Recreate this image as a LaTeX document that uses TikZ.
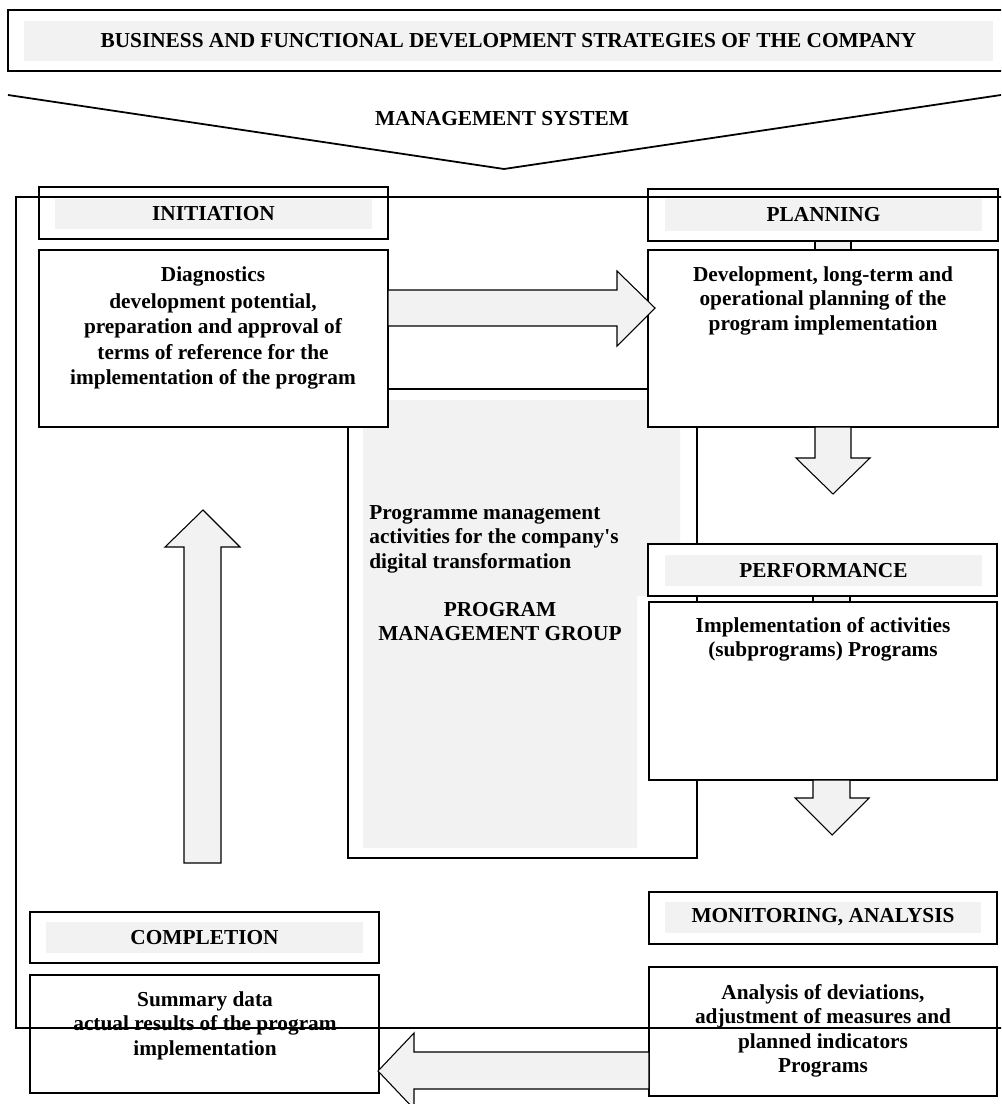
\documentclass[tikz,border=0pt]{standalone}
\usepackage{fontspec}
\setmainfont{Liberation Serif}[Ligatures=TeXOff]
\usetikzlibrary{fit}

\tikzset{
  frame/.style={draw, fill=white, line width=0.6pt, inner sep=0pt},
  shade/.style={fill=gray!10, inner sep=0pt},
  caption/.style={font=\fontsize{12}{13.8}\selectfont\bfseries, align=center, inner sep=0pt},
  blockarrow/.style={draw, fill=gray!10, line width=0.6pt, line join=miter}
}

\begin{document}
\begin{tikzpicture}[x=0.563pt,y=-0.563pt]
\useasboundingbox (0,0) rectangle (1001,1104);
\clip (0,0) rectangle (1001,1104);

% strategies and management system
\node[frame, fit={(8,10) (1012,71)}] (strat) {};
\node[shade, fit={(24,21) (993,61)}] (stratbar) {};
\node[caption] (strattxt) at (stratbar) {BUSINESS AND FUNCTIONAL DEVELOPMENT STRATEGIES OF THE COMPANY};
\coordinate (vleft) at (8,95);
\coordinate (apex) at (504,169);
\coordinate (vright) at (1001,95);
\draw[line width=1pt] (vleft) -- (apex) -- (vright);
\node[caption] (mgmt) at (502,119) {MANAGEMENT SYSTEM};

% program management group
\node[frame, fit={(348,389) (697,858)}] (pmg) {};
\fill[gray!10] (363,400) -- (680,400) -- (680,596) -- (637,596) -- (637,848) -- (363,848) -- cycle;
\node[caption, align=left, anchor=north west] (pmgtxt) at (369,505) {Programme management\\activities for the company's\\digital transformation};
\node[caption, anchor=north] (pmggroup) at (500,602) {PROGRAM\\MANAGEMENT GROUP};

% initiation
\node[frame, fit={(39,187) (388,239)}] (init) {};
\node[shade, fit={(55,199) (372,229)}] (initbar) {};
\node[caption] (inittxt) at (initbar) {INITIATION};
\node[frame, fit={(39,250) (388,427)}] (diag) {};
\node[caption, font=\fontsize{12}{14.3}\selectfont\bfseries, anchor=north] (diagtxt) at (213,266) {Diagnostics\\[1pt]development potential,\\preparation and approval of\\terms of reference for the\\implementation of the program};

% planning
\node[frame, fit={(648,189) (998,241)}] (plan) {};
\node[shade, fit={(665,199) (982,231)}] (planbar) {};
\node[caption] (plantxt) at (planbar) {PLANNING};
\draw[blockarrow] (815,241) rectangle (851,250);
\node[frame, fit={(648,250) (998,427)}] (planbody) {};
\node[caption, anchor=north] (planbodytxt) at (823,266) {Development, long-term and\\operational planning of the\\program implementation};
\draw[blockarrow] (388,290) -- (617,290) -- (617,271) -- (655,308) -- (617,346) -- (617,326) -- (388,326) -- cycle;
\draw[blockarrow] (815,427) -- (815,458) -- (796,458) -- (833,494) -- (870,458) -- (851,458) -- (851,427) -- cycle;

% performance
\node[frame, fit={(648,544) (997,596)}] (perf) {};
\node[shade, fit={(665,555) (982,586)}] (perfbar) {};
\node[caption] (perftxt) at (perfbar) {PERFORMANCE};
\draw[blockarrow] (813,596) rectangle (850,602);
\node[frame, fit={(649,602) (997,780)}] (impl) {};
\node[caption, anchor=north] (impltxt) at (823,617) {Implementation of activities\\(subprograms) Programs};
\draw[blockarrow] (813,780) -- (813,798) -- (795,798) -- (832,835) -- (869,798) -- (850,798) -- (850,780) -- cycle;

% monitoring
\node[frame, fit={(649,892) (997,944)}] (mon) {};
\node[shade, fit={(665,902) (981,933)}] (monbar) {};
\node[caption] (montxt) at (monbar) {MONITORING, ANALYSIS};
\node[frame, fit={(649,967) (997,1096)}] (anal) {};
\node[caption, anchor=north] (analtxt) at (823,984) {Analysis of deviations,\\adjustment of measures and\\planned indicators\\Programs};

% completion
\node[frame, fit={(30,912) (379,963)}] (compl) {};
\node[shade, fit={(46,922) (363,953)}] (complbar) {};
\node[caption] (compltxt) at (complbar) {COMPLETION};
\node[frame, fit={(30,975) (379,1093)}] (summ) {};
\node[caption, anchor=north] (summtxt) at (205,991) {Summary data\\actual results of the program\\implementation};
\draw[blockarrow] (649,1052) -- (414,1052) -- (414,1033) -- (378,1071) -- (414,1109) -- (414,1089) -- (649,1089) -- cycle;
\draw[blockarrow] (184,863) -- (184,547) -- (165,547) -- (203,510) -- (240,547) -- (221,547) -- (221,863) -- cycle;

% outer frame
\draw[line width=0.6pt] (16,197) rectangle (1012,1028);
\end{tikzpicture}
\end{document}
